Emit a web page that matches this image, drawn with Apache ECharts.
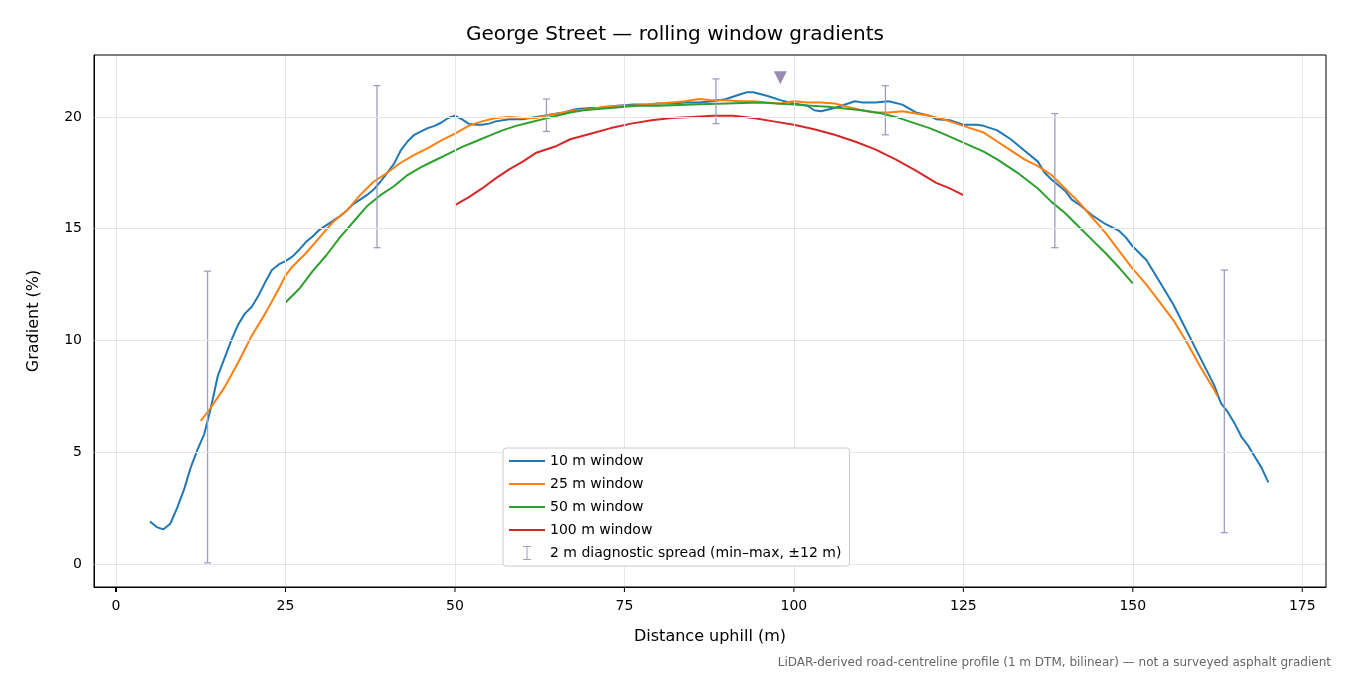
<!DOCTYPE html>
<html><head><meta charset="utf-8">
<script src="https://cdn.jsdelivr.net/npm/echarts@6/dist/echarts.min.js"></script>
<style>html,body{margin:0;padding:0;background:#fff}#c{width:1350px;height:675px}</style>
</head><body><div id="c"></div>
<script>
const w10 = [[5,1.9],[6,1.65],[7,1.55],[8,1.8],[9,2.5],[10,3.3],[11,4.3],[12,5.1],[13,5.8],[14,7.0],[15,8.4],[16,9.2],[17,10],[18,10.7],[19,11.2],[20,11.5],[21,12.0],[22,12.6],[23,13.15],[24,13.4],[25,13.55],[26,13.75],[27,14.05],[28,14.4],[29,14.65],[30,14.95],[31,15.15],[32,15.35],[33,15.55],[34,15.8],[35,16.1],[36,16.3],[37,16.5],[38,16.75],[39,17.1],[40,17.5],[41,17.9],[42,18.5],[43,18.9],[44,19.2],[45,19.35],[46,19.5],[47,19.6],[48,19.75],[49,19.95],[50,20.05],[51,19.9],[52,19.7],[53,19.65],[54,19.65],[55,19.7],[56,19.8],[58,19.9],[60,19.9],[62,20.0],[64,20.1],[66,20.2],[68,20.35],[70,20.4],[72,20.4],[74,20.5],[76,20.55],[78,20.55],[80,20.6],[82,20.6],[84,20.65],[86,20.65],[88,20.7],[90,20.8],[92,21.0],[93,21.1],[94,21.1],[96,20.95],[98,20.75],[100,20.6],[102,20.5],[103,20.3],[104,20.25],[106,20.4],[108,20.6],[109,20.7],[110,20.65],[112,20.65],[114,20.7],[116,20.55],[118,20.2],[120,20.05],[121,19.9],[123,19.85],[125,19.65],[127,19.65],[128,19.6],[130,19.4],[132,19.0],[134,18.5],[136,18.0],[137,17.5],[138,17.2],[140,16.7],[141,16.3],[142,16.1],[144,15.6],[146,15.2],[148,14.9],[149,14.6],[150,14.2],[152,13.6],[154,12.6],[155,12.1],[156,11.6],[158,10.4],[160,9.2],[162,8.0],[163,7.2],[164,6.8],[165,6.3],[166,5.7],[167,5.3],[168,4.8],[169,4.3],[170,3.65]];
const w25 = [[12.5,6.4],[14,7.0],[16,7.9],[18,9.0],[20,10.2],[22,11.2],[24,12.3],[25,12.9],[26,13.3],[28,13.9],[30,14.6],[32,15.3],[34,15.8],[36,16.5],[38,17.1],[40,17.5],[42,17.95],[44,18.3],[46,18.6],[48,18.95],[50,19.25],[52,19.6],[54,19.8],[56,19.95],[58,20.0],[60,19.95],[62,19.95],[64,20.1],[66,20.2],[68,20.3],[70,20.35],[72,20.45],[74,20.5],[76,20.5],[78,20.55],[80,20.6],[82,20.65],[84,20.7],[86,20.8],[88,20.75],[90,20.75],[92,20.7],[94,20.7],[96,20.65],[98,20.6],[100,20.7],[102,20.65],[104,20.65],[106,20.6],[108,20.45],[110,20.3],[112,20.2],[114,20.2],[116,20.25],[118,20.15],[120,20.05],[122,19.9],[124,19.7],[126,19.5],[128,19.3],[130,18.9],[132,18.5],[134,18.1],[136,17.8],[138,17.4],[140,16.8],[142,16.2],[144,15.5],[146,14.8],[148,14.0],[150,13.2],[152,12.5],[154,11.7],[156,10.9],[158,9.9],[160,8.8],[162,7.8],[162.5,7.5]];
const w50 = [[25,11.7],[27,12.3],[29,13.1],[31,13.8],[33,14.6],[35,15.3],[37,16.0],[39,16.5],[41,16.9],[43,17.4],[45,17.75],[47,18.05],[49,18.35],[51,18.65],[53,18.9],[55,19.15],[57,19.4],[59,19.6],[61,19.75],[63,19.9],[65,20.05],[67,20.2],[69,20.3],[71,20.35],[73,20.4],[75,20.45],[77,20.5],[80,20.5],[85,20.55],[90,20.6],[95,20.65],[100,20.55],[105,20.45],[110,20.3],[113,20.15],[115,20.0],[117,19.8],[120,19.5],[122,19.25],[125,18.85],[128,18.45],[130,18.1],[133,17.5],[136,16.8],[138,16.2],[140,15.7],[142,15.1],[144,14.5],[146,13.9],[148,13.25],[150,12.55]];
const w100 = [[50,16.05],[52,16.4],[54,16.8],[56,17.25],[58,17.65],[60,18.0],[62,18.4],[63,18.5],[65,18.7],[67,19.0],[70,19.25],[73,19.5],[76,19.7],[79,19.85],[82,19.95],[85,20.0],[88,20.05],[91,20.05],[94,19.95],[97,19.8],[100,19.65],[103,19.45],[106,19.2],[109,18.9],[112,18.55],[115,18.1],[118,17.6],[121,17.05],[123,16.8],[125,16.5]];
const spreadX = [13.5,38.5,63.5,88.5,113.5,138.5,163.5];
const spreadMin = [0.05,14.15,19.35,19.7,19.2,14.15,1.4];
const spreadMax = [13.1,21.4,20.8,21.7,21.4,20.15,13.15];
const peak = [[98,21.75]];
const xTicks = [0,25,50,75,100,125,150,175];
const yTicks = [0,5,10,15,20];
const XMIN=-3.25, XMAX=178.5, YMIN=-1.03, YMAX=22.77;

const chart = echarts.init(document.getElementById('c'));
const ff = 'DejaVu Sans';
const line = (name, data, color) => ({name, type:'line', data, showSymbol:false, symbol:'none', lineStyle:{width:2,color}, itemStyle:{color}, z:3, animation:false});
chart.setOption({
  animation:false,
  textStyle:{fontFamily:ff},
  title:[{text:'George Street — rolling window gradients', left:'center', top:20, textStyle:{fontFamily:ff,fontSize:20,fontWeight:'normal',color:'#000'}},
    {text:'LiDAR-derived road-centreline profile (1 m DTM, bilinear) — not a surveyed asphalt gradient', right:14, top:652, textStyle:{fontFamily:ff,fontSize:12,fontWeight:'normal',color:'#666'}}],
  grid:{left:94,right:24,top:55,bottom:88},
  xAxis:{type:'value',min:XMIN,max:XMAX,name:'Distance uphill (m)',nameLocation:'middle',nameGap:42,nameTextStyle:{fontSize:16,color:'#000'},
    axisLine:{onZero:false,lineStyle:{color:'#000'}},axisTick:{show:false},
    axisLabel:{fontSize:14,color:'#000',margin:12,customValues:xTicks},
    splitLine:{show:false}},
  yAxis:{type:'value',min:YMIN,max:YMAX,name:'Gradient (%)',nameLocation:'middle',nameGap:52,nameTextStyle:{fontSize:16,color:'#000'},
    axisLine:{show:true,onZero:false,lineStyle:{color:'#000'}},axisTick:{show:false},
    axisLabel:{fontSize:14,color:'#000',margin:12,customValues:yTicks},
    splitLine:{show:false}},
  graphic:[{type:'rect',shape:{x:94,y:55,width:1232,height:532},style:{fill:'none',stroke:'#000',lineWidth:1},z:10,silent:true}],
  legend:{orient:'vertical',left:503,top:448,itemWidth:36,itemHeight:14,itemGap:9,padding:[6,8,6,6],
    backgroundColor:'#fff',borderColor:'#ccc',borderWidth:1,borderRadius:3,z:20,
    textStyle:{fontFamily:ff,fontSize:14,color:'#000'},
    data:[{name:'10 m window',icon:'path://M0,6H36V8H0Z'},{name:'25 m window',icon:'path://M0,6H36V8H0Z'},{name:'50 m window',icon:'path://M0,6H36V8H0Z'},{name:'100 m window',icon:'path://M0,6H36V8H0Z'},
      {name:'2 m diagnostic spread (min–max, ±12 m)',icon:'path://M14,0H22V1H18.5V13H22V14H14V13H17.5V1H14Z'}]},
  series:[
    {type:'line',silent:true,data:[],markLine:{silent:true,symbol:'none',label:{show:false},lineStyle:{color:'#e6e6e6',width:1,type:'solid'},
      data:xTicks.map(v=>({xAxis:v})).concat(yTicks.map(v=>({yAxis:v})))},z:0},
    {type:'custom',silent:true,z:10,clip:false,data:xTicks.map(v=>[v,0]).concat(yTicks.map(v=>[0,v,1])),
      renderItem:(p,api)=>{
        if(api.value(2)===1){const c=api.coord([XMIN,api.value(1)]);return {type:'line',shape:{x1:c[0]-5,y1:c[1],x2:c[0],y2:c[1]},style:{stroke:'#000',lineWidth:1}};}
        const c=api.coord([api.value(0),YMIN]);return {type:'line',shape:{x1:c[0],y1:c[1],x2:c[0],y2:c[1]+5},style:{stroke:'#000',lineWidth:1}};}},
    line('10 m window',w10,'#1f77b4'),
    line('25 m window',w25,'#ff7f0e'),
    line('50 m window',w50,'#2ca02c'),
    line('100 m window',w100,'#d62728'),
    {name:'2 m diagnostic spread (min–max, ±12 m)',type:'custom',z:4,itemStyle:{color:'#a09cc0'},
      data:spreadX.map((x,i)=>[x,spreadMin[i],spreadMax[i]]),
      renderItem:(p,api)=>{const a=api.coord([api.value(0),api.value(1)]),b=api.coord([api.value(0),api.value(2)]);
        const s={stroke:'#a09cc0',lineWidth:1.3};
        return {type:'group',children:[
          {type:'line',shape:{x1:a[0],y1:a[1],x2:b[0],y2:b[1]},style:s},
          {type:'line',shape:{x1:a[0]-3.5,y1:a[1],x2:a[0]+3.5,y2:a[1]},style:s},
          {type:'line',shape:{x1:b[0]-3.5,y1:b[1],x2:b[0]+3.5,y2:b[1]},style:s}]};}},
    {type:'scatter',data:peak,symbol:'triangle',symbolRotate:180,symbolSize:13,itemStyle:{color:'#7f6f9f'},z:5}
  ]
});
</script></body></html>
